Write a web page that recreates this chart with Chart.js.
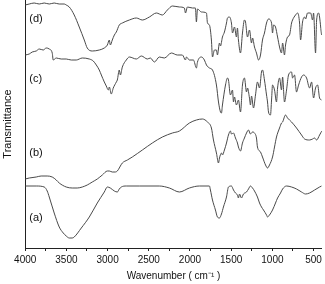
<!DOCTYPE html>
<html><head><meta charset="utf-8">
<script src="https://cdn.jsdelivr.net/npm/chart.js@4"></script>
<style>html,body{margin:0;padding:0;background:#fff}#w{width:325px;height:284px}</style>
</head><body><div id="w"><canvas id="c"></canvas></div>
<script>
// Wavenumbers (cm-1) and transmittance (arbitrary units, offset stacked) for each spectrum
const wnA=[4000,3866,3769,3733,3708,3648,3587,3538,3502,3465,3429,3405,3319,3222,3125,3040,3003,2967,2918,2882,2858,2833,2773,2615,2372,2250,2128,2007,1885,1764,1752,1727,1691,1667,1642,1618,1594,1557,1533,1497,1472,1448,1424,1412,1399,1375,1351,1314,1290,1266,1241,1217,1181,1156,1132,1108,1071,1059,1035,998,962,937,901,876,828,767,707,646,597,549,488,427,403];
const tA=[62,62,61,57,51,35,21,15,12,10,10,11,20,31,45,56,61,60,57,56,59,61,62,62,62,60,56,60,62,62,58,48,38,31,30,34,41,51,61,62,58,55,53,50,54,50,54,56,59,62,60,57,51,45,41,38,33,31,33,38,45,50,55,59,62,61,59,56,54,55,58,61,62];

const wnB=[4000,3951,3866,3806,3733,3672,3623,3587,3502,3429,3368,3307,3247,3186,3125,3064,3003,2979,2943,2906,2882,2821,2760,2700,2578,2457,2335,2213,2128,2007,1922,1849,1788,1740,1715,1679,1654,1642,1618,1606,1582,1557,1533,1509,1497,1472,1448,1424,1412,1387,1363,1339,1314,1290,1266,1241,1217,1193,1181,1144,1120,1083,1059,1035,998,974,950,913,889,876,840,816,767,707,646,609,549,512,488,463,427,400];
const tB=[69,70,71,72,72,71,68,65,61,60,60,61,63,66,69,73,77,77,76,76,77,85,88,91,98,105,111,115,117,125,128,129,126,120,108,95,85,90,95,93,98,105,113,117,114,115,110,105,101,97,105,110,115,118,114,116,115,110,101,96,91,83,80,83,91,101,111,120,125,126,133,130,126,120,113,109,108,109,110,108,113,117];

const wnC=[4000,3951,3915,3866,3830,3781,3745,3708,3672,3660,3623,3563,3502,3441,3380,3307,3222,3174,3137,3101,3076,3040,3016,2991,2979,2955,2931,2894,2882,2858,2845,2821,2773,2736,2651,2590,2517,2481,2432,2372,2311,2226,2153,2092,2055,2043,2007,1958,1922,1909,1861,1825,1800,1764,1727,1679,1654,1630,1618,1606,1569,1545,1533,1509,1484,1472,1460,1436,1412,1387,1363,1339,1314,1302,1278,1266,1253,1229,1205,1181,1156,1132,1120,1096,1071,1059,1047,1023,1010,998,974,950,937,913,889,876,853,828,804,767,755,731,707,682,646,622,585,549,524,500,476,451,427,403];
const tC=[193,194,196,197,199,198,200,199,195,188,190,189,189,188,188,190,189,187,183,178,173,166,162,158,161,154,160,166,168,178,173,181,188,191,189,192,189,190,186,191,190,195,193,193,188,191,188,188,180,186,191,188,183,180,178,163,146,136,135,143,163,170,168,153,158,146,151,143,148,136,163,170,156,160,150,143,152,140,153,166,160,176,178,168,153,146,136,133,148,163,158,146,160,170,158,171,146,158,173,176,170,173,156,163,171,173,170,160,166,150,160,163,150,148];

const wnD=[4000,3951,3891,3830,3769,3708,3648,3587,3526,3502,3465,3405,3344,3283,3247,3186,3101,3040,3003,2979,2967,2943,2918,2894,2858,2821,2736,2651,2578,2493,2408,2335,2274,2213,2128,2068,2055,2031,1970,1934,1922,1909,1861,1800,1788,1764,1740,1727,1703,1679,1667,1642,1630,1606,1582,1557,1545,1521,1497,1484,1460,1436,1424,1412,1387,1363,1339,1326,1302,1278,1253,1241,1217,1193,1168,1144,1120,1096,1071,1047,1010,998,986,962,937,913,889,876,853,840,816,792,767,755,719,694,670,658,634,609,597,573,536,512,500,476,463,439,403];
const tD=[243,244,245,244,245,244,245,244,244,243,241,233,221,208,200,197,198,200,203,208,203,208,213,216,223,225,228,230,228,231,235,233,238,242,241,240,235,241,240,240,226,239,236,235,225,223,208,191,198,198,193,205,202,211,216,225,230,231,225,215,221,211,220,208,195,215,228,226,211,218,205,210,201,195,188,193,208,215,225,229,225,215,223,221,211,201,195,205,193,203,211,213,225,228,233,235,225,208,226,231,229,235,235,228,235,195,228,235,213];

const tickValues=[4000,3750,3500,3250,3000,2750,2500,2250,2000,1750,1500,1250,1000,750,500];
const labeledStep=500;
const curveLabels=['(a)','(b)','(c)','(d)'];
const curveLabelWn=[3951,3951,3951,3951];
const curveLabelT=[30,95,169,229];

function pts(w,t){return w.map((x,i)=>({x:x,y:t[i]}));}
const lineStyle={borderColor:'#4a4a4a',borderWidth:1,pointRadius:0,pointHoverRadius:0,pointHitRadius:0,fill:false,cubicInterpolationMode:'monotone'};

const labelPlugin={id:'curveLabels',afterDatasetsDraw(chart){
  const {ctx,scales:{x,y}}=chart;
  ctx.save();
  ctx.font='11px "Liberation Sans", Arial, sans-serif';
  ctx.fillStyle='#111';
  ctx.textAlign='left';ctx.textBaseline='middle';
  curveLabels.forEach((s,i)=>ctx.fillText(s,x.getPixelForValue(curveLabelWn[i]),y.getPixelForValue(curveLabelT[i])));
  ctx.restore();
}};

Chart.defaults.font.family='"Liberation Sans", Arial, sans-serif';
Chart.defaults.color='#111';
new Chart(document.getElementById('c'),{
  type:'line',
  data:{datasets:[
    Object.assign({label:'a',data:pts(wnA,tA)},lineStyle),
    Object.assign({label:'b',data:pts(wnB,tB)},lineStyle),
    Object.assign({label:'c',data:pts(wnC,tC)},lineStyle),
    Object.assign({label:'d',data:pts(wnD,tD)},lineStyle)
  ]},
  options:{
    responsive:true,maintainAspectRatio:false,animation:false,devicePixelRatio:1,
    events:[],
    layout:{autoPadding:false,padding:{left:0,right:3,top:0,bottom:0}},
    plugins:{legend:{display:false},tooltip:{enabled:false}},
    scales:{
      x:{type:'linear',reverse:true,min:400,max:4000,
        afterBuildTicks:(s)=>{s.ticks=tickValues.map(v=>({value:v}));},
        ticks:{autoSkip:false,maxRotation:0,padding:3,font:{size:10},color:'#111',
          callback:(v)=> (v%labeledStep===0? String(v):'')},
        grid:{display:true,drawOnChartArea:false,drawTicks:true,tickLength:3,color:'#222'},
        border:{display:true,color:'#222',width:1},
        title:{display:true,text:'Wavenumber ( cm\u207B\u00B9 )',font:{size:10},color:'#111',padding:{top:1,bottom:2}}
      },
      y:{min:0,max:248,
        ticks:{display:false},
        grid:{display:false,drawTicks:false},
        border:{display:true,color:'#222',width:1},
        title:{display:true,text:'Transmittance',font:{size:11},color:'#111',padding:{top:1,bottom:11}}
      }
    }
  },
  plugins:[labelPlugin]
});
</script>
</body></html>
